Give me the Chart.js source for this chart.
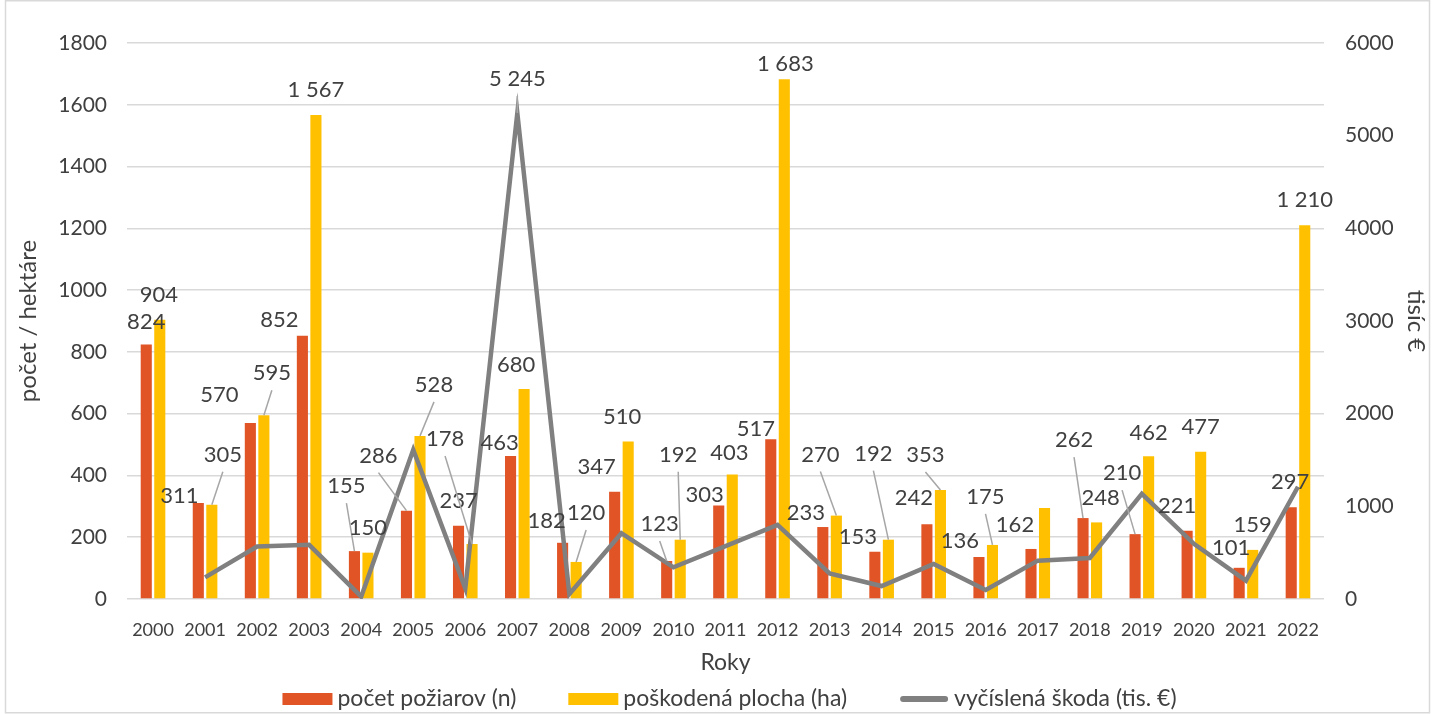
<!DOCTYPE html>
<html lang="sk">
<head>
<meta charset="utf-8">
<title>Požiare 2000–2022</title>
<script src="https://cdn.jsdelivr.net/npm/chart.js@4/dist/chart.umd.min.js"></script>
<style>
  html, body { margin: 0; padding: 0; background: #fff; }
  #wrap { width: 1434px; height: 714px; }
</style>
</head>
<body>
<div id="wrap"><canvas id="chart"></canvas></div>
<script>
const years = ["2000", "2001", "2002", "2003", "2004", "2005", "2006", "2007", "2008", "2009", "2010", "2011",
  "2012", "2013", "2014", "2015", "2016", "2017", "2018", "2019", "2020", "2021", "2022"];

// počet požiarov (n)
const fireCount = [824, 311, 570, 852, 155, 286, 237, 463, 182, 347, 123, 303,
  517, 233, 153, 242, 136, 162, 262, 210, 221, 101, 297];

// poškodená plocha (ha)
const burntArea = [904, 305, 595, 1567, 150, 528, 178, 680, 120, 510, 192, 403,
  1683, 270, 192, 353, 175, 295, 248, 462, 477, 159, 1210];

// vyčíslená škoda (tis. €)
const damage = [null, 234, 566, 585, 25, 1611, 115, 5245, 54, 710, 342, 570,
  800, 277, 140, 378, 97, 414, 443, 1135, 595, 198, 1211];

// which values get a data label (Excel showed only some)
const countLabelShown = years.map(() => true);
const areaLabelShown = years.map((y) => y !== "2017");
const damageLabelShown = years.map((y) => y === "2007");

// label nudges [dx, dy] in px, relative to the spot above the mark
const countLabelNudge = [[0, 2], [-19, 18], [-31, -3], [-23, 9], [-8, -40], [-28, -30], [0, 0], [-11, 12],
  [-16, 3], [-18, 0], [-7, -12], [-14, 14], [-15, 15], [-17, 11], [-17, 10], [-13, -1], [-19, 9],
  [-16, 1], [-9, -53], [-13, -36], [-10, 0], [-8, 5], [-1, 0]];
const areaLabelNudge = [[-1, 0], [11, -25], [8, -17], [0, 0], [0, 0], [14, -26], [-27, -80], [-8, 1],
  [10, -24], [-6, 0], [-2, -60], [-3, 3], [1, 10], [-16, -36], [-15, -61], [-15, -10], [-7, -23],
  [0, 0], [4, 1], [0, 2], [0, 0], [0, 0], [0, 0]];
const damageLabelNudge = years.map((y) => (y === "2007" ? [0, -9] : [0, 0]));

const TEXT = "#404040";
const FONT = "Lato, 'Noto Sans', sans-serif";

const fmt = (v) => String(v).replace(/\B(?=(\d{3})+(?!\d))/g, " ");

// data labels with leader lines, drawn on top of the datasets
const dataLabels = {
  id: "dataLabels",
  afterDatasetsDraw(chart) {
    const ctx = chart.ctx;
    const cfg = [
      { shown: countLabelShown, nudge: countLabelNudge },
      { shown: areaLabelShown, nudge: areaLabelNudge },
      { shown: damageLabelShown, nudge: damageLabelNudge },
    ];
    ctx.save();
    ctx.font = "22px " + FONT;
    ctx.textAlign = "center";
    ctx.textBaseline = "middle";
    chart.data.datasets.forEach((ds, i) => {
      const meta = chart.getDatasetMeta(i);
      meta.data.forEach((el, j) => {
        const v = ds.data[j];
        if (v == null || !cfg[i].shown[j]) return;
        const [dx, dy] = cfg[i].nudge[j];
        const x = el.x + dx;
        const y = el.y - 25 + dy;
        if (el.y - (y + 9) > 23) {
          ctx.strokeStyle = "#A6A6A6";
          ctx.lineWidth = 1.5;
          ctx.beginPath();
          ctx.moveTo(x, y + 17);
          ctx.lineTo(el.x, el.y);
          ctx.stroke();
        }
        ctx.fillStyle = TEXT;
        ctx.fillText(fmt(v), x, y);
      });
    });
    ctx.restore();
  },
};

// bottom legend, spaced like the Excel original
const bottomLegend = {
  id: "bottomLegend",
  afterDraw(chart) {
    const ctx = chart.ctx;
    const ds = chart.data.datasets;
    const boxW = 50, gap = 5, spacing = 52, cy = 699;
    ctx.save();
    ctx.font = "23px " + FONT;
    ctx.textBaseline = "middle";
    const widths = ds.map((d) => boxW + gap + ctx.measureText(d.label).width);
    const total = widths.reduce((a, b) => a + b, 0) + spacing * (ds.length - 1);
    const area = chart.chartArea;
    let x = (area.left + area.right) / 2 + 4 - total / 2;
    ds.forEach((d, i) => {
      if (d.type === "line") {
        ctx.strokeStyle = d.borderColor;
        ctx.lineWidth = 6;
        ctx.lineCap = "round";
        ctx.beginPath();
        ctx.moveTo(x + 4, cy);
        ctx.lineTo(x + boxW - 4, cy);
        ctx.stroke();
      } else {
        ctx.fillStyle = d.backgroundColor;
        ctx.fillRect(x, cy - 6, boxW, 12);
      }
      ctx.fillStyle = TEXT;
      ctx.fillText(d.label, x + boxW + gap, cy);
      x += widths[i] + spacing;
    });
    ctx.restore();
  },
};

const frame = {
  id: "frame",
  beforeDraw(chart) {
    const ctx = chart.ctx;
    ctx.save();
    ctx.fillStyle = "#fff";
    ctx.fillRect(0, 0, chart.width, chart.height);
    ctx.strokeStyle = "#D9D9D9";
    ctx.lineWidth = 1.5;
    ctx.strokeRect(5.5, 0.75, chart.width - 10, chart.height - 2);
    ctx.restore();
  },
};

new Chart(document.getElementById("chart"), {
  type: "bar",
  data: {
    labels: years,
    datasets: [
      {
        label: "počet požiarov (n)",
        data: fireCount,
        backgroundColor: "#E05426",
        yAxisID: "y",
        categoryPercentage: 0.52,
        barPercentage: 0.82,
        order: 2,
      },
      {
        label: "poškodená plocha (ha)",
        data: burntArea,
        backgroundColor: "#FFC000",
        yAxisID: "y",
        categoryPercentage: 0.52,
        barPercentage: 0.82,
        order: 2,
      },
      {
        type: "line",
        label: "vyčíslená škoda (tis. €)",
        data: damage,
        borderColor: "#808080",
        backgroundColor: "#808080",
        borderWidth: 4.5,
        pointRadius: 0,
        tension: 0,
        yAxisID: "y1",
        order: 1,
      },
    ],
  },
  options: {
    responsive: true,
    maintainAspectRatio: false,
    animation: false,
    layout: { padding: { top: 43, left: 0, right: 0, bottom: 35 } },
    plugins: {
      tooltip: { enabled: false },
      legend: { display: false },
    },
    scales: {
      x: {
        grid: { display: false },
        border: { display: false },
        ticks: { color: TEXT, font: { family: FONT, size: 18 }, padding: 12, maxRotation: 0, autoSkip: false },
        title: { display: true, text: "Roky", color: TEXT, font: { family: FONT, size: 23 }, padding: { top: 0, bottom: 3 } },
        afterFit(scale) { scale.height = 80; },
      },
      y: {
        position: "left",
        min: 0,
        max: 1800,
        ticks: { stepSize: 200, color: TEXT, font: { family: FONT, size: 21 }, padding: 20, callback: (v) => String(v) },
        grid: { color: "#D9D9D9", lineWidth: 1.5, drawTicks: false },
        border: { display: false },
        title: { display: true, text: "počet / hektáre", color: TEXT, font: { family: FONT, size: 24 }, padding: { top: 14, bottom: 0 } },
        afterFit(scale) { scale.width = 127; },
      },
      y1: {
        position: "right",
        min: 0,
        max: 6000,
        ticks: { stepSize: 1000, color: TEXT, font: { family: FONT, size: 21 }, padding: 21, callback: (v) => String(v) },
        grid: { display: false, drawTicks: false },
        border: { display: false },
        title: { display: true, text: "tisíc €", color: TEXT, font: { family: FONT, size: 24 }, padding: { top: 4, bottom: 0 } },
        afterFit(scale) { scale.width = 110; },
      },
    },
  },
  plugins: [frame, dataLabels, bottomLegend],
});
</script>
</body>
</html>
